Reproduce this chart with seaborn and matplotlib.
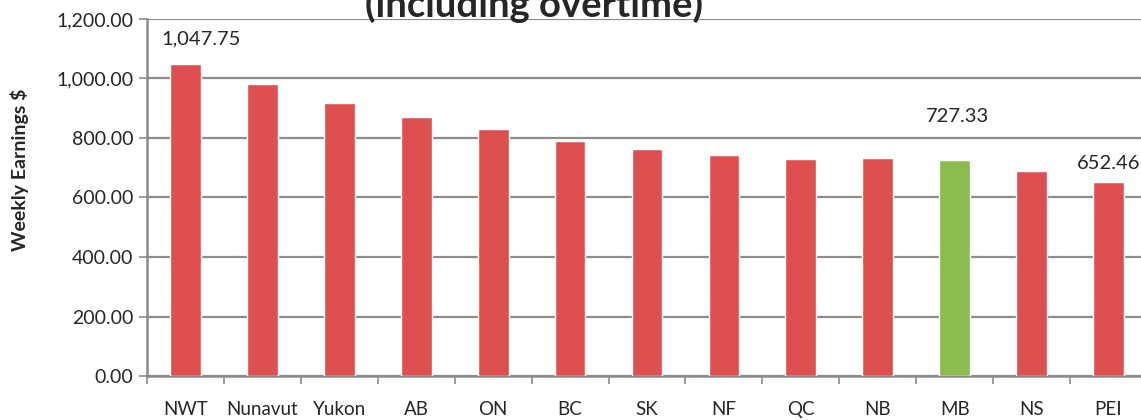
import pandas as pd
import matplotlib.pyplot as plt
import seaborn as sns

# values
provinces = ["NWT", "Nunavut", "Yukon", "AB", "ON", "BC", "SK",
             "NF", "QC", "NB", "MB", "NS", "PEI"]
earnings = [1047.75, 980.0, 917.0, 871.0, 831.0, 791.0, 762.0,
            743.0, 731.0, 734.0, 727.33, 690.0, 652.46]
# data labels shown only on these bars (offset in pixels from bar top)
labelled = {"NWT": (16, 25), "MB": (3, 43), "PEI": (0, 18)}

df = pd.DataFrame({"province": provinces, "earnings": earnings})

red = "#DE5050"
green = "#8CBB50"
palette = {p: (green if p == "MB" else red) for p in provinces}

sns.set_theme(style="white")
plt.rcParams["font.family"] = ["Lato", "DejaVu Sans"]

fig = plt.figure(figsize=(11.41, 4.2), dpi=100)
ax = fig.add_axes([147 / 1141, 1 - 376 / 420, 1000 / 1141, 357 / 420])

sns.barplot(data=df, x="province", y="earnings", hue="province",
            palette=palette, legend=False, width=0.4, saturation=1,
            ax=ax, zorder=3)

ax.set_ylim(0, 1200)
ax.set_xlim(-0.5, len(provinces) - 0.5)
ax.set_yticks(range(0, 1201, 200))
ax.set_yticklabels([f"{v:,.2f}" for v in range(0, 1201, 200)], fontsize=14)
ax.yaxis.grid(True, color="#8C8C8C", linewidth=1.6, zorder=0)
ax.set_axisbelow(True)

# tick marks between categories, labels under the bars
ax.set_xticks([i - 0.5 for i in range(len(provinces) + 1)], minor=True)
ax.tick_params(axis="x", which="minor", length=6, width=1.2,
               color="#8C8C8C", direction="out", bottom=True)
ax.tick_params(axis="x", which="major", length=0, pad=18, labelsize=13.5)
ax.tick_params(axis="y", length=6, width=1.2, color="#8C8C8C",
               direction="out", left=True, pad=4)

for side in ["top", "right"]:
    ax.spines[side].set_visible(False)
for side in ["left", "bottom"]:
    ax.spines[side].set_color("#8C8C8C")
    ax.spines[side].set_linewidth(1.8)

ax.set_xlabel("")
ax.set_ylabel("Weekly Earnings $", fontsize=14, fontweight="bold")
ax.yaxis.set_label_coords(-0.118, 0.577)

for i, (p, v) in enumerate(zip(provinces, earnings)):
    if p in labelled:
        dx, dy = labelled[p]
        ax.annotate(f"{v:,.2f}", (i, v), xytext=(dx, dy),
                    textcoords="offset pixels", ha="center", va="center",
                    fontsize=14.5)

# title sits partly above the top edge, as in the original
fig.text(0.468, 1 - 17 / 420, "(including overtime)",
         ha="center", va="baseline", fontsize=27.5, fontweight="bold")

fig.savefig("out.png", dpi=100)
